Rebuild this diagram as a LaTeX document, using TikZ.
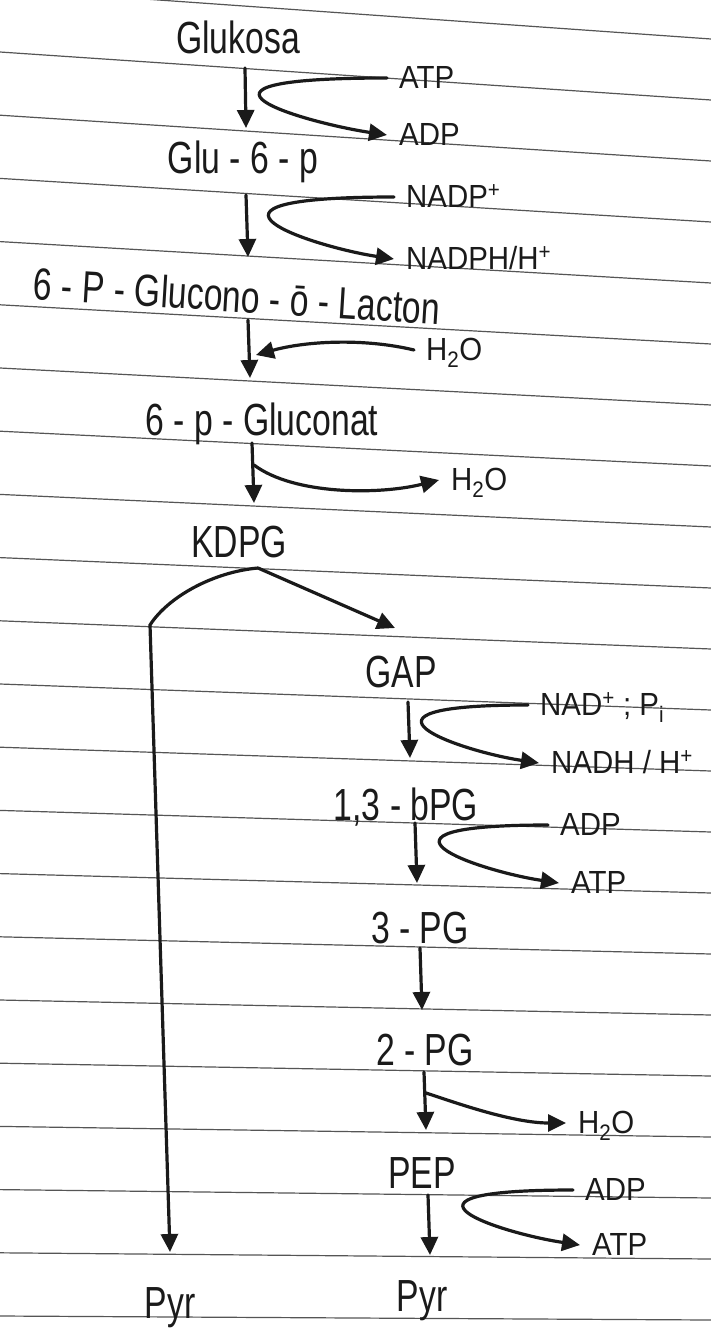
\documentclass[tikz,border=0pt]{standalone}
\usepackage{fontspec}
\setmainfont[FakeStretch=0.75]{Liberation Sans}
\newfontfamily\cofont[FakeStretch=0.92]{Liberation Sans}
\usepackage{tikz}
\usetikzlibrary{arrows.meta}
\definecolor{ink}{HTML}{1A1A1A}
\definecolor{ruling}{HTML}{555555}
\tikzset{
  metabolite/.style={
    font=\fontsize{45}{48}\selectfont,
    text=ink,
    inner sep=0pt,
    anchor=base
  },
  cofactor/.style={
    font=\cofont\fontsize{32}{34}\selectfont,
    text=ink,
    inner xsep=12pt,
    inner ysep=0pt,
    text height=24pt,
    text depth=4pt,
    anchor=base west
  },
  mainarrow/.style={-{Triangle[length=18pt,width=17pt]}, line width=3.2pt, draw=ink, line cap=round},
  sidearrow/.style={mainarrow},
  paperline/.style={draw=ruling, line width=1.2pt}
}

\begin{document}
\begin{tikzpicture}[x=1pt,y=-1pt]
\fill[white] (0,0) rectangle (711,1328);
\useasboundingbox (0,0) rectangle (711,1328);

% ruled paper
\foreach \k in {-1,...,20}{
  \pgfmathsetmacro{\yl}{52+63.2*\k}
  \pgfmathsetmacro{\yr}{\yl+48-(\yl-52)/1264*44}
  \draw[paperline] (0,\yl) -- (711,\yr);
}

% main chain
\node[metabolite] (glc) at (238,53) {Glukosa};
\node[metabolite] (gsp) at (243,173) {Glu - 6 - p};
\node[metabolite, rotate=-3.5] (lac) at (236,312) {6 - P - Glucono - \=o - Lacton};
\node[metabolite] (gcn) at (262,435) {6 - p - Gluconat};
\node[metabolite] (kdpg) at (239,557) {KDPG};
\node[metabolite] (gap) at (401,687) {GAP};
\node[metabolite] (bpg) at (406,820) {1,3 - bPG};
\node[metabolite] (pgc) at (420,943) {3 - PG};
\node[metabolite] (pgb) at (425,1065) {2 - PG};
\node[metabolite] (pep) at (422,1188) {PEP};
\node[metabolite] (pyrl) at (170,1318) {Pyr};
\node[metabolite] (pyrr) at (422,1311) {Pyr};

% cofactors
\node[cofactor] (atpa) at (387,88) {ATP};
\node[cofactor] (adpa) at (387,145) {ADP};
\node[cofactor] (nadp) at (394,207) {NADP\textsuperscript{+}};
\node[cofactor] (nadph) at (394,269) {NADPH/H\textsuperscript{+}};
\node[cofactor] (wata) at (414,360) {H\textsubscript{2}O};
\node[cofactor] (watb) at (439,490) {H\textsubscript{2}O};
\node[cofactor] (nad) at (528,715) {NAD\textsuperscript{+} ; P\textsubscript{i}};
\node[cofactor] (nadh) at (539,773) {NADH / H\textsuperscript{+}};
\node[cofactor] (adpb) at (548,835) {ADP};
\node[cofactor] (atpb) at (559,893) {ATP};
\node[cofactor] (watc) at (566,1133) {H\textsubscript{2}O};
\node[cofactor] (adpc) at (573,1200) {ADP};
\node[cofactor] (atpc) at (580,1255) {ATP};

\coordinate (ja) at ([xshift=20pt,yshift=-43pt]lac.base);
\coordinate (jb) at ([xshift=-8pt,yshift=-30pt]gcn.base);
\coordinate (jc) at ([xshift=1pt,yshift=-28pt]pgb.base);
\coordinate (split) at ([xshift=19pt,yshift=-11pt]kdpg.base);
\coordinate (bend) at (150,625);

\draw[mainarrow] ([xshift=7pt,yshift=-15pt]glc.base) -- ([xshift=3pt,yshift=45pt]gsp.base);
\draw[mainarrow] ([xshift=3pt,yshift=-22pt]gsp.base) -- ([xshift=12pt,yshift=55pt]lac.base);
\draw[mainarrow] ([xshift=12pt,yshift=-8pt]lac.base) -- ([xshift=-12pt,yshift=57pt]gcn.base);
\draw[mainarrow] ([xshift=-10pt,yshift=-8pt]gcn.base) -- ([xshift=15pt,yshift=54pt]kdpg.base);
\draw[mainarrow] (split) -- ([xshift=-6pt,yshift=59pt]gap.base);
\draw[mainarrow] (split) .. controls +(-45,4) and +(18,-28) .. (bend) -- ([yshift=66pt]pyrl.base);
\draw[mainarrow] ([xshift=7pt,yshift=-15pt]gap.base) -- ([xshift=4pt,yshift=62pt]bpg.base);
\draw[mainarrow] ([xshift=9pt,yshift=-3pt]bpg.base) -- ([xshift=-3pt,yshift=60pt]pgc.base);
\draw[mainarrow] ([yshift=-5pt]pgc.base) -- ([xshift=-3pt,yshift=55pt]pgb.base);
\draw[mainarrow] ([xshift=-1pt,yshift=-7pt]pgb.base) -- ([xshift=4pt,yshift=58pt]pep.base);
\draw[mainarrow] ([xshift=6pt,yshift=-7pt]pep.base) -- ([xshift=8pt,yshift=56pt]pyrr.base);

\draw[sidearrow] (atpa.west) .. controls +(-240,0) and +(-80,-12) .. (adpa.west);
\draw[sidearrow] (nadp.west) .. controls +(-235,0) and +(-80,-12) .. (nadph.west);
\draw[sidearrow] (wata.west) .. controls +(-50,-12) and +(50,-14) .. (ja);
\draw[sidearrow] (jb) .. controls +(40,30) and +(-60,15) .. (watb.west);
\draw[sidearrow] (nad.west) .. controls +(-200,0) and +(-80,-12) .. (nadh.west);
\draw[sidearrow] (adpb.west) .. controls +(-205,0) and +(-80,-12) .. (atpb.west);
\draw[sidearrow] (jc) .. controls +(25,8) and +(-55,0) .. (watc.west);
\draw[sidearrow] (adpc.west) .. controls +(-205,0) and +(-80,-12) .. (atpc.west);
\end{tikzpicture}
\end{document}
